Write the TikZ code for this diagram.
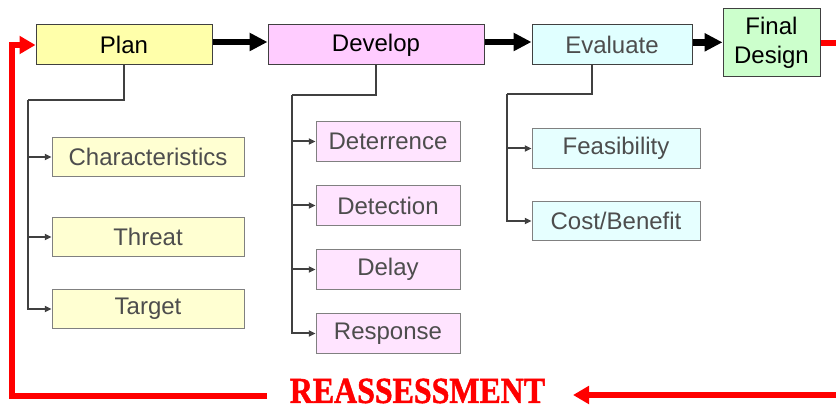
\documentclass[tikz,border=0pt]{standalone}
\usepackage{fontspec}
\setmainfont{Liberation Sans}
\newfontfamily\headfont[BoldFeatures={FakeBold=1.5}]{Liberation Serif}
\usetikzlibrary{arrows.meta}

\definecolor{planfill}{RGB}{255,255,170}
\definecolor{devfill}{RGB}{255,204,255}
\definecolor{evalfill}{RGB}{224,255,255}
\definecolor{finalfill}{RGB}{204,255,204}
\definecolor{plansub}{RGB}{255,255,210}
\definecolor{devsub}{RGB}{255,228,255}
\definecolor{evalsub}{RGB}{230,255,255}
\definecolor{darkline}{RGB}{64,64,64}
\definecolor{subline}{RGB}{128,128,128}
\definecolor{graytext}{RGB}{77,77,77}
\definecolor{alarm}{RGB}{255,0,0}

\tikzset{
  stage/.style={draw=darkline, line width=0.75pt, inner sep=0pt,
    minimum height=30pt, font=\fontsize{18}{21.5}\selectfont, align=center},
  substage/.style={draw=subline, line width=0.75pt, inner sep=0pt,
    minimum height=29.5pt, text=graytext, font=\fontsize{18}{21.5}\selectfont},
  flow/.style={line width=5pt, -{Triangle[length=13.5pt,width=13pt]}},
  tree/.style={draw=darkline, line width=1.5pt},
  branch/.style={tree, -{Triangle[length=5pt,width=4.5pt]}},
  loopline/.style={draw=alarm, line width=4.5pt},
  looparrow/.style={loopline, -{Triangle[length=12pt,width=13pt]}}
}

\begin{document}
\begin{tikzpicture}[x=0.75pt,y=-0.75pt]
\useasboundingbox (0,0) rectangle (836,409);

% main stages
\node[stage, fill=planfill, minimum width=132pt] (plan) at (124,45) {Plan};
\node[stage, fill=devfill, minimum width=162pt] (dev) at (376,45) {Develop};
\node[stage, fill=evalfill, minimum width=120pt, text=graytext] (eval) at (612,45) {Evaluate};
\node[stage, fill=finalfill, minimum width=72.75pt, minimum height=51pt] (final) at (771.5,43) {Final\\Design};

% flow between stages
\draw[flow] ([yshift=2.25pt]plan.east) -- ([yshift=2.25pt]dev.west);
\draw[flow] ([yshift=2.25pt]dev.east) -- ([yshift=2.25pt]eval.west);
\draw[flow] ([yshift=2pt]eval.east) -- ([yshift=2pt]eval.east -| final.west);

% plan details
\node[substage, fill=plansub, minimum width=144pt] (char) at (148,157) {Characteristics};
\node[substage, fill=plansub, minimum width=144pt] (threat) at (148,237) {Threat};
\node[substage, fill=plansub, minimum width=144pt] (target) at (148,309) {Target};
\coordinate (pb) at (28,100);
\draw[tree] (plan.south) |- (pb);
\draw[branch] (pb) |- (target.west);
\draw[branch] (pb |- char.west) -- (char.west);
\draw[branch] (pb |- threat.west) -- (threat.west);

% develop details
\node[substage, fill=devsub, minimum width=108pt] (deter) at (388,141.5) {Deterrence};
\node[substage, fill=devsub, minimum width=108pt] (detect) at (388,205.5) {Detection};
\node[substage, fill=devsub, minimum width=108pt] (delay) at (388,269.5) {Delay};
\node[substage, fill=devsub, minimum width=108pt] (resp) at (388,333.5) {Response};
\coordinate (db) at (292,95);
\draw[tree] (dev.south) |- (db);
\draw[branch] (db) |- (resp.west);
\draw[branch] (db |- deter.west) -- (deter.west);
\draw[branch] (db |- detect.west) -- (detect.west);
\draw[branch] (db |- delay.west) -- (delay.west);

% evaluate details
\node[substage, fill=evalsub, minimum width=126pt] (feas) at (616,148.5) {Feasibility};
\node[substage, fill=evalsub, minimum width=126pt] (cost) at (616,221) {Cost/Benefit};
\coordinate (eb) at (507,94);
\draw[tree] ([xshift=-15pt]eval.south) |- (eb);
\draw[branch] (eb) |- (cost.west);
\draw[branch] (eb |- feas.west) -- (feas.west);

% reassessment loop
\node[text=alarm, inner sep=0pt] (reass) at (417.5,391)
  {\scalebox{0.87}[1]{\headfont\bfseries\fontsize{27.5}{28}\selectfont REASSESSMENT}};
\coordinate (finr) at (836,43);
\coordinate (rr) at (836,395);
\coordinate (ra) at (573,395);
\coordinate (rl) at (267,396);
\coordinate (lb) at (12,396);
\draw[loopline] (final.east) -- (finr);
\draw[looparrow] (rr) -- (ra);
\draw[looparrow] (rl) -- (lb) |- (plan.west);
\end{tikzpicture}
\end{document}
